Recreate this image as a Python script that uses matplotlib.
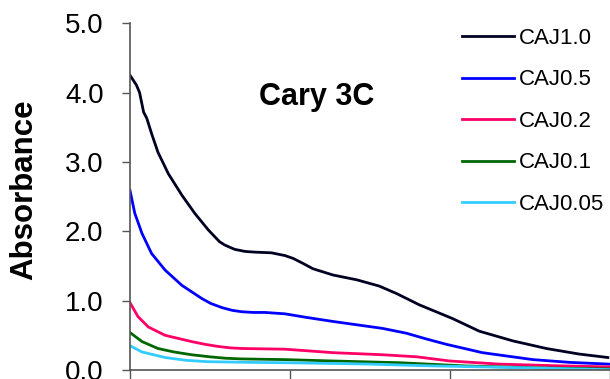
import matplotlib
matplotlib.use('Agg')
import matplotlib.pyplot as plt

plt.rcParams['font.family'] = ['Liberation Sans', 'DejaVu Sans']

# wavelength (nm) and absorbance
wl_10 = [200, 208, 212, 217, 221, 227, 235, 248, 265, 281, 298, 312, 319, 331, 344, 356, 377,
         394, 404, 416, 429, 454, 484, 512, 534, 562, 604, 637, 679, 721, 762, 798]
abs_10 = [4.25, 4.11, 4.00, 3.72, 3.63, 3.41, 3.14, 2.83, 2.52, 2.26, 2.02, 1.85, 1.80, 1.74, 1.71,
          1.70, 1.69, 1.65, 1.61, 1.54, 1.46, 1.37, 1.30, 1.21, 1.10, 0.94, 0.74, 0.56, 0.42,
          0.31, 0.23, 0.18]

wl_05 = [200, 206, 215, 227, 244, 265, 290, 301, 315, 328, 340, 354, 369, 394, 420, 454, 485,
         516, 546, 570, 596, 641, 704, 750, 799]
abs_05 = [2.59, 2.26, 1.97, 1.68, 1.44, 1.22, 1.03, 0.96, 0.90, 0.86, 0.84, 0.83, 0.83, 0.81,
          0.76, 0.70, 0.65, 0.60, 0.53, 0.45, 0.37, 0.25, 0.15, 0.11, 0.085]

wl_02 = [200, 210, 223, 244, 277, 294, 310, 325, 340, 394, 454, 516, 559, 600, 662, 737, 799]
abs_02 = [0.97, 0.77, 0.62, 0.50, 0.41, 0.37, 0.34, 0.32, 0.31, 0.30, 0.25, 0.22, 0.19, 0.13,
          0.085, 0.06, 0.045]

wl_01 = [200, 215, 235, 255, 277, 300, 319, 339, 394, 454, 537, 621, 712, 799]
abs_01 = [0.54, 0.41, 0.31, 0.26, 0.22, 0.19, 0.17, 0.16, 0.15, 0.13, 0.105, 0.058, 0.03, 0.015]

wl_005 = [200, 215, 244, 270, 297, 350, 394, 496, 575, 662, 799]
abs_005 = [0.35, 0.26, 0.18, 0.14, 0.12, 0.11, 0.105, 0.086, 0.06, 0.04, 0.005]

labels = ['CAJ1.0', 'CAJ0.5', 'CAJ0.2', 'CAJ0.1', 'CAJ0.05']
colors = ['#000022', '#0000FF', '#FF0066', '#006600', '#33CCFF']
series = [(wl_10, abs_10), (wl_05, abs_05), (wl_02, abs_02), (wl_01, abs_01), (wl_005, abs_005)]

y_ticks = [0.0, 1.0, 2.0, 3.0, 4.0, 5.0]
x_ticks = [200, 400, 600, 800]

fig = plt.figure(figsize=(6.1, 3.79), dpi=100)
ax = fig.add_axes([130 / 610, 1 - 370 / 379, 479.5 / 610, 346.7 / 379])

for (x, y), lab, col in zip(series, labels, colors):
    ax.plot(x, y, color=col, lw=2.0, label=lab, solid_joinstyle='round')

ax.set_xlim(200, 800)
ax.set_ylim(0, 5)
ax.set_yticks(y_ticks)
ax.set_yticklabels([f'{v:.1f}' for v in y_ticks])
ax.set_xticks(x_ticks)
ax.set_xticklabels([])

for side in ['top', 'right']:
    ax.spines[side].set_visible(False)
for side in ['left', 'bottom']:
    ax.spines[side].set_color('#555555')
    ax.spines[side].set_linewidth(1.2)

ax.tick_params(axis='y', direction='out', length=6, width=1.0, color='#555555',
               labelsize=20, pad=13)
ax.tick_params(axis='x', direction='out', length=9, width=1.0, color='#555555')

ax.set_ylabel('Absorbance', fontsize=22.5, fontweight='bold', va='center')
ax.yaxis.set_label_coords(-0.221, 0.52)

ax.text(0.389, 0.787, 'Cary 3C', transform=ax.transAxes, ha='center', va='center',
        fontsize=22, fontweight='bold')

ax.legend(loc='upper left', bbox_to_anchor=(462 / 610, 1 - 28 / 379),
          bbox_transform=fig.transFigure, frameon=False, fontsize=16,
          borderpad=0, borderaxespad=0, handlelength=2.34, handletextpad=0.23,
          labelspacing=0.92)

fig.savefig('out.png', dpi=100)
